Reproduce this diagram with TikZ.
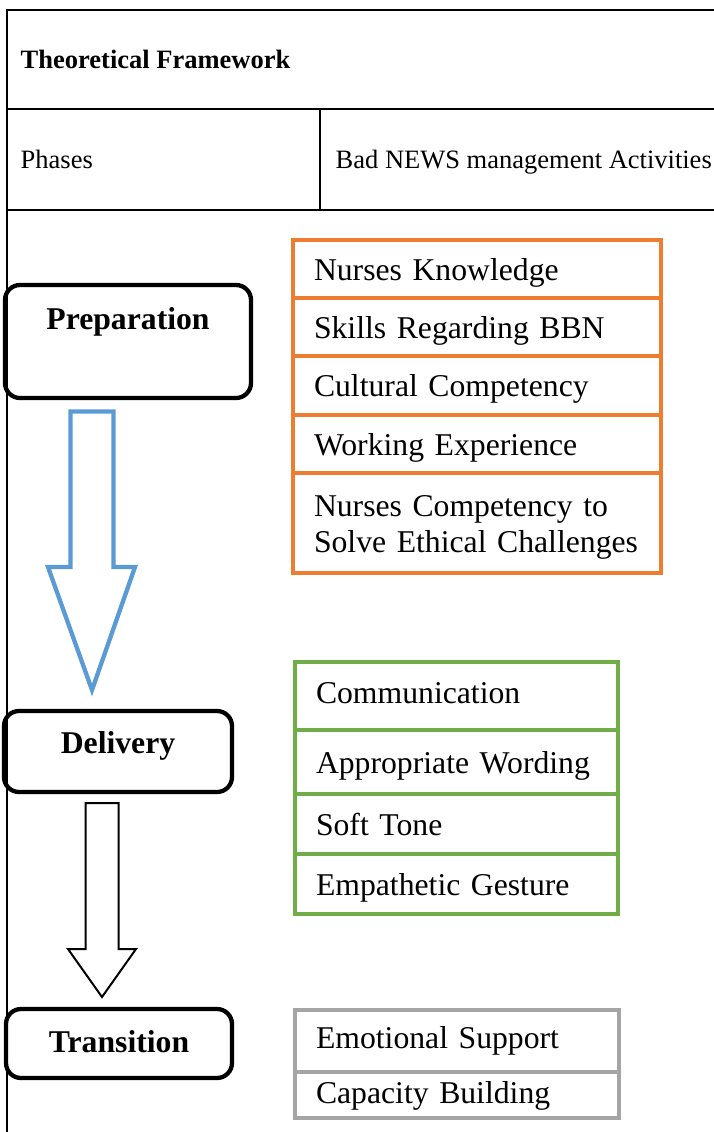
\documentclass[tikz,border=0pt]{standalone}
\usepackage{fontspec}
\setmainfont{Liberation Serif}
\usetikzlibrary{positioning}
\definecolor{actorange}{HTML}{ED7D31}
\definecolor{actgreen}{HTML}{70AD47}
\definecolor{actgray}{HTML}{A5A5A5}
\definecolor{flowblue}{HTML}{5B9BD5}

\begin{document}
\begin{tikzpicture}[x=1pt, y=-1pt,
  every node/.style={font=\fontsize{31.7}{36}\selectfont},
  head/.style={font=\fontsize{26.5}{30}\selectfont, anchor=base west, inner sep=0pt},
  phase/.style={draw, line width=4.3pt, rounded corners=15pt, inner sep=0pt,
    font=\fontsize{31.7}{36}\selectfont\bfseries, text height=22pt, text depth=4pt},
  act/.style={draw=#1, line width=4.5pt, outer sep=0pt, inner xsep=21pt, inner ysep=0pt,
    align=left, text height=22pt, text depth=0pt},
  prepact/.style={act=actorange, minimum width=368pt, text width=326pt},
  delact/.style={act=actgreen, minimum width=323pt, text width=281pt},
  transact/.style={act=actgray, minimum width=324pt, text width=282pt}]
  \useasboundingbox (0,0) rectangle (714,1132);
  % table frame
  \draw[line width=2pt] (7,1132) -- (7,10) -- (714,10);
  \draw[line width=2pt] (7,109) -- (714,109);
  \draw[line width=2pt] (7,210) -- (714,210);
  \draw[line width=2pt] (320,109) -- (320,210);
  \node[head] (title) at (20.5,68) {\bfseries Theoretical Framework};
  \node[head] (phases) at (20.5,168) {Phases};
  \node[head] (activities) at (335.5,168) {Bad NEWS management Activities};
  % phases
  \node[phase, minimum width=246pt, minimum height=113pt, text depth=47pt] (prep) at (128,341.5) {Preparation};
  \node[phase, minimum width=228pt, minimum height=81pt, text depth=19pt] (deliv) at (118,751.5) {Delivery};
  \node[phase, minimum width=226pt, minimum height=69pt, text depth=5pt] (trans) at (119,1043.5) {Transition};
  % block arrows between the phases
  \draw[flowblue, line width=4.3pt] (70.5,411.5) -- (113.5,411.5) -- (113.5,567) -- (135,567)
    -- (92,690) -- (48,567) -- (70.5,567) -- cycle;
  \draw[line width=2pt] (85.5,803) -- (118.5,803) -- (118.5,949) -- (136,949)
    -- (102,997) -- (68,949) -- (85.5,949) -- cycle;
  % preparation activities
  \node[prepact, minimum height=58pt] (knowledge) at (477,269) {Nurses Knowledge};
  \node[prepact, minimum height=58pt, below=0pt of knowledge] (skills) {Skills Regarding BBN};
  \node[prepact, minimum height=59pt, below=0pt of skills] (culture) {Cultural Competency};
  \node[prepact, minimum height=58pt, below=0pt of culture] (work) {Working Experience};
  \node[prepact, minimum height=100pt, text depth=36pt, below=0pt of work] (ethics) {Nurses Competency to\\Solve Ethical Challenges};
  % delivery activities
  \node[delact, minimum height=68pt, text depth=8pt] (comm) at (456.5,696) {Communication};
  \node[delact, minimum height=64pt, below=0pt of comm] (wording) {Appropriate Wording};
  \node[delact, minimum height=60pt, below=0pt of wording] (tone) {Soft Tone};
  \node[delact, minimum height=60pt, below=0pt of tone] (gesture) {Empathetic Gesture};
  % transition activities
  \node[transact, minimum height=62pt, text depth=8pt] (support) at (457,1041) {Emotional Support};
  \node[transact, minimum height=46pt, text depth=6pt, below=0pt of support] (capacity) {Capacity Building};
\end{tikzpicture}
\end{document}
